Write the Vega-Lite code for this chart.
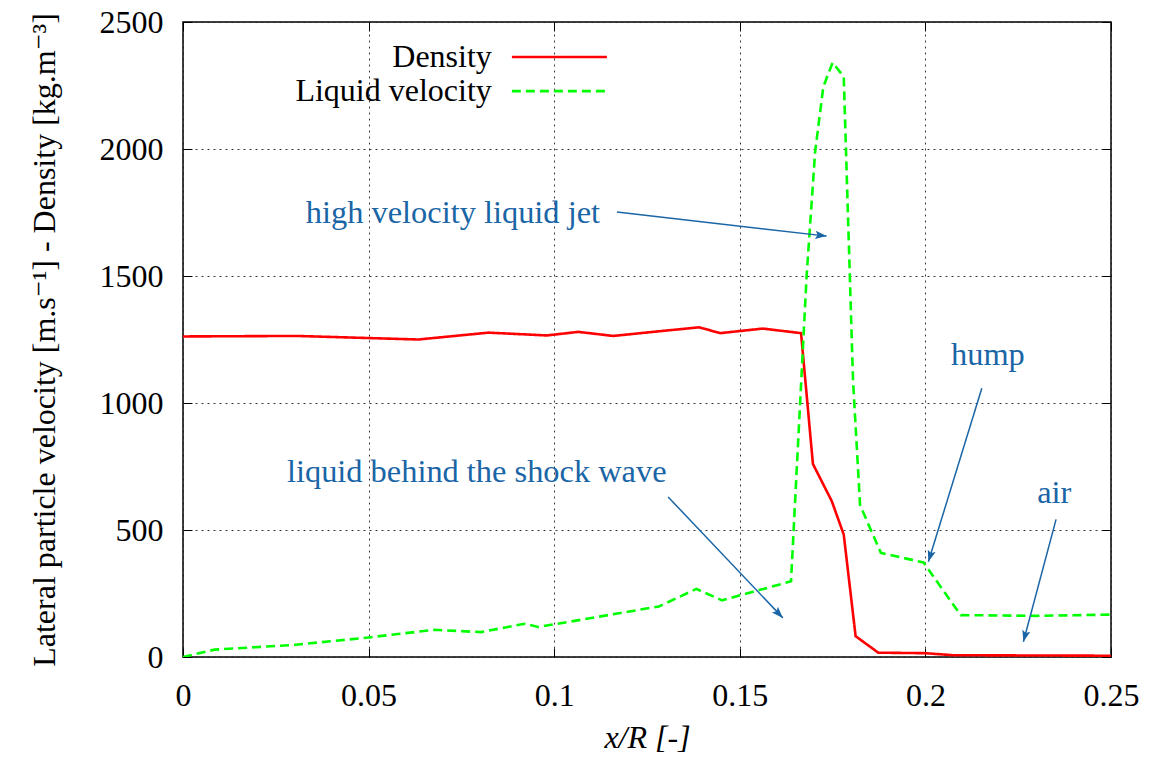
{
  "$schema": "https://vega.github.io/schema/vega-lite/v6.json",
  "width": 928,
  "height": 635,
  "autosize": "none",
  "padding": {"left": 183, "top": 22, "right": 40, "bottom": 101},
  "background": "white",
  "config": {
    "font": "Liberation Serif, DejaVu Serif, serif",
    "text": {"font": "Liberation Serif, DejaVu Serif, serif"},
    "axis": {"labelFont": "Liberation Serif, DejaVu Serif, serif", "titleFont": "Liberation Serif, DejaVu Serif, serif"},
    "view": {"stroke": "black", "strokeWidth": 1.5}
  },
  "datasets": {
    "curves": [
      {"series": "Density", "x": 0, "y": 1262},
      {"series": "Density", "x": 0.0306, "y": 1264},
      {"series": "Density", "x": 0.0634, "y": 1250},
      {"series": "Density", "x": 0.0823, "y": 1277},
      {"series": "Density", "x": 0.098, "y": 1266},
      {"series": "Density", "x": 0.1065, "y": 1280},
      {"series": "Density", "x": 0.1159, "y": 1264},
      {"series": "Density", "x": 0.128, "y": 1282},
      {"series": "Density", "x": 0.1391, "y": 1298},
      {"series": "Density", "x": 0.1447, "y": 1275},
      {"series": "Density", "x": 0.1562, "y": 1293},
      {"series": "Density", "x": 0.1665, "y": 1275},
      {"series": "Density", "x": 0.1697, "y": 760},
      {"series": "Density", "x": 0.1748, "y": 613},
      {"series": "Density", "x": 0.178, "y": 482},
      {"series": "Density", "x": 0.1812, "y": 82},
      {"series": "Density", "x": 0.1873, "y": 17},
      {"series": "Density", "x": 0.2, "y": 15},
      {"series": "Density", "x": 0.2075, "y": 7},
      {"series": "Density", "x": 0.25, "y": 5},
      {"series": "Liquid velocity", "x": 0, "y": 0},
      {"series": "Liquid velocity", "x": 0.0085, "y": 29},
      {"series": "Liquid velocity", "x": 0.0303, "y": 48},
      {"series": "Liquid velocity", "x": 0.05, "y": 77},
      {"series": "Liquid velocity", "x": 0.0676, "y": 107},
      {"series": "Liquid velocity", "x": 0.0803, "y": 98},
      {"series": "Liquid velocity", "x": 0.092, "y": 131},
      {"series": "Liquid velocity", "x": 0.0957, "y": 118},
      {"series": "Liquid velocity", "x": 0.1282, "y": 199},
      {"series": "Liquid velocity", "x": 0.1383, "y": 268},
      {"series": "Liquid velocity", "x": 0.1452, "y": 223},
      {"series": "Liquid velocity", "x": 0.1638, "y": 298},
      {"series": "Liquid velocity", "x": 0.168, "y": 1500},
      {"series": "Liquid velocity", "x": 0.1703, "y": 1990},
      {"series": "Liquid velocity", "x": 0.1725, "y": 2245},
      {"series": "Liquid velocity", "x": 0.175, "y": 2340},
      {"series": "Liquid velocity", "x": 0.178, "y": 2285},
      {"series": "Liquid velocity", "x": 0.1805, "y": 1090},
      {"series": "Liquid velocity", "x": 0.1824, "y": 598},
      {"series": "Liquid velocity", "x": 0.188, "y": 410},
      {"series": "Liquid velocity", "x": 0.1995, "y": 372},
      {"series": "Liquid velocity", "x": 0.2095, "y": 165},
      {"series": "Liquid velocity", "x": 0.23, "y": 162},
      {"series": "Liquid velocity", "x": 0.25, "y": 167}
    ],
    "legend": [
      {"series": "Density", "x": 0.0832, "x2": 0.0886, "x3": 0.1142, "y": 2362},
      {"series": "Liquid velocity", "x": 0.0832, "x2": 0.0886, "x3": 0.1142, "y": 2228}
    ],
    "notes": [
      {"label": "high velocity liquid jet", "x": 0.0331, "y": 1748},
      {"label": "liquid behind the shock wave", "x": 0.028, "y": 728},
      {"label": "hump", "x": 0.2069, "y": 1189},
      {"label": "air", "x": 0.2301, "y": 646}
    ],
    "arrows": [
      {"name": "jet", "x0": 0.1169, "y0": 1752, "x1": 0.1734, "y1": 1657},
      {"name": "shock", "x0": 0.1307, "y0": 630, "x1": 0.1616, "y1": 154},
      {"name": "hump", "x0": 0.2152, "y0": 1058, "x1": 0.2008, "y1": 375},
      {"name": "air", "x0": 0.2352, "y0": 542, "x1": 0.2264, "y1": 60}
    ]
  },
  "layer": [
    {
      "data": {"name": "curves"},
      "mark": {"type": "point", "opacity": 0},
      "encoding": {
        "x": {"field": "x", "type": "quantitative", "scale": {"domain": [0, 0.25], "nice": false},
          "axis": {"orient": "top", "values": [0, 0.05, 0.1, 0.15, 0.2, 0.25], "labels": false, "grid": false, "domain": false, "title": null, "tickSize": -9, "tickColor": "black", "tickWidth": 1}},
        "y": {"field": "y", "type": "quantitative", "scale": {"domain": [0, 2500], "nice": false},
          "axis": {"orient": "right", "values": [0, 500, 1000, 1500, 2000, 2500], "labels": false, "grid": false, "domain": false, "title": null, "tickSize": -9, "tickColor": "black", "tickWidth": 1}}
      }
    },
    {
      "data": {"name": "curves"},
      "mark": {"type": "line", "strokeWidth": 2.6, "clip": true},
      "encoding": {
        "x": {"field": "x", "type": "quantitative",
          "axis": {"orient": "bottom", "values": [0, 0.05, 0.1, 0.15, 0.2, 0.25], "format": "~g", "labelFlush": false,
            "labelFontSize": 32, "labelColor": "black", "labelPadding": 32,
            "tickSize": -9, "tickColor": "black", "tickWidth": 1, "domain": false,
            "grid": true, "gridColor": "#222", "gridDash": [2, 4], "gridWidth": 1, "gridOpacity": 0.9,
            "title": "x/R [-]", "titleFontSize": 32, "titleFontStyle": "italic", "titleFontWeight": "normal", "titleColor": "black", "titlePadding": 11}},
        "y": {"field": "y", "type": "quantitative",
          "axis": {"orient": "left", "values": [0, 500, 1000, 1500, 2000, 2500], "format": "d", "labelFlush": false,
            "labelFontSize": 32, "labelColor": "black", "labelPadding": 29,
            "tickSize": -9, "tickColor": "black", "tickWidth": 1, "domain": false,
            "grid": true, "gridColor": "#222", "gridDash": [2, 4], "gridWidth": 1, "gridOpacity": 0.9,
            "title": "Lateral particle velocity [m.s⁻¹] - Density [kg.m⁻³]", "titleFontSize": 32, "titleFontWeight": "normal", "titleColor": "black", "titlePadding": 38}},
        "color": {"field": "series", "type": "nominal", "scale": {"domain": ["Density", "Liquid velocity"], "range": ["#ff0000", "#00ff00"]}, "legend": null},
        "strokeDash": {"field": "series", "type": "nominal", "scale": {"domain": ["Density", "Liquid velocity"], "range": [[1, 0], [9, 5]]}, "legend": null},
        "order": {"field": "x", "type": "quantitative"}
      }
    },
    {
      "data": {"name": "legend"},
      "mark": {"type": "rule", "strokeWidth": 2.6},
      "encoding": {
        "x": {"field": "x2", "type": "quantitative", "axis": null},
        "x2": {"field": "x3"},
        "y": {"field": "y", "type": "quantitative", "axis": null},
        "color": {"field": "series", "type": "nominal", "legend": null},
        "strokeDash": {"field": "series", "type": "nominal", "legend": null}
      }
    },
    {
      "data": {"name": "legend"},
      "mark": {"type": "text", "align": "right", "baseline": "middle", "fontSize": 32, "color": "black"},
      "encoding": {
        "x": {"field": "x", "type": "quantitative", "axis": null},
        "y": {"field": "y", "type": "quantitative", "axis": null},
        "text": {"field": "series"}
      }
    },
    {
      "data": {"name": "notes"},
      "mark": {"type": "text", "align": "left", "baseline": "middle", "fontSize": 32.4, "color": "#1a65a6"},
      "encoding": {
        "x": {"field": "x", "type": "quantitative", "axis": null},
        "y": {"field": "y", "type": "quantitative", "axis": null},
        "text": {"field": "label"}
      }
    },
    {
      "data": {"name": "arrows"},
      "mark": {"type": "rule", "strokeWidth": 1.5, "color": "#1a65a6"},
      "encoding": {
        "x": {"field": "x0", "type": "quantitative", "axis": null},
        "y": {"field": "y0", "type": "quantitative", "axis": null},
        "x2": {"field": "x1"},
        "y2": {"field": "y1"}
      }
    },
    {
      "data": {"name": "arrows"},
      "transform": [{"filter": "datum.name === 'jet'"}],
      "mark": {"type": "point", "shape": "M0,0L-0.36,1L0,0.8L0.36,1Z", "size": 520, "filled": true, "opacity": 1, "color": "#1a65a6", "angle": 96.5},
      "encoding": {
        "x": {"field": "x1", "type": "quantitative", "axis": null},
        "y": {"field": "y1", "type": "quantitative", "axis": null}
      }
    },
    {
      "data": {"name": "arrows"},
      "transform": [{"filter": "datum.name === 'shock'"}],
      "mark": {"type": "point", "shape": "M0,0L-0.36,1L0,0.8L0.36,1Z", "size": 520, "filled": true, "opacity": 1, "color": "#1a65a6", "angle": 136},
      "encoding": {
        "x": {"field": "x1", "type": "quantitative", "axis": null},
        "y": {"field": "y1", "type": "quantitative", "axis": null}
      }
    },
    {
      "data": {"name": "arrows"},
      "transform": [{"filter": "datum.name === 'hump'"}],
      "mark": {"type": "point", "shape": "M0,0L-0.36,1L0,0.8L0.36,1Z", "size": 520, "filled": true, "opacity": 1, "color": "#1a65a6", "angle": 197},
      "encoding": {
        "x": {"field": "x1", "type": "quantitative", "axis": null},
        "y": {"field": "y1", "type": "quantitative", "axis": null}
      }
    },
    {
      "data": {"name": "arrows"},
      "transform": [{"filter": "datum.name === 'air'"}],
      "mark": {"type": "point", "shape": "M0,0L-0.36,1L0,0.8L0.36,1Z", "size": 520, "filled": true, "opacity": 1, "color": "#1a65a6", "angle": 195},
      "encoding": {
        "x": {"field": "x1", "type": "quantitative", "axis": null},
        "y": {"field": "y1", "type": "quantitative", "axis": null}
      }
    }
  ]
}
